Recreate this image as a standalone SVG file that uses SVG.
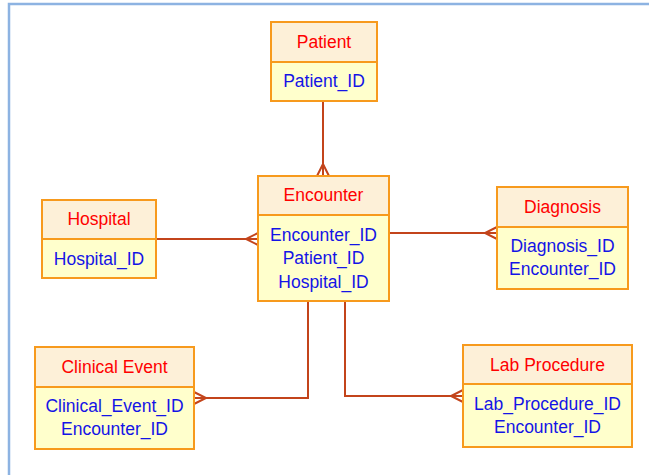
<svg xmlns="http://www.w3.org/2000/svg" width="649" height="475" viewBox="0 0 649 475">
<style>
.hd{fill:#FDF0D8;stroke:#F79A1D;stroke-width:2}
.bd{fill:#FFFFCC;stroke:#F79A1D;stroke-width:2}
.ht{fill:#FF0000;font-family:"Liberation Sans",Arial,sans-serif;font-size:17.5px;text-anchor:middle}
.bt{fill:#1414E6;font-family:"Liberation Sans",Arial,sans-serif;font-size:17.5px;text-anchor:middle}
.cn{fill:none;stroke:#C3441B;stroke-width:2}
</style>
<rect x="9" y="4" width="700" height="520" fill="#FFFFFF" stroke="#8DB3E2" stroke-width="2.5"/>
<g id="connectors">
<path class="cn" d="M323,101 V176 M317,176 L323,164 L329,176 M323,164 V176"/>
<path class="cn" d="M156,239 H258 M258,233 L246,239 L258,245"/>
<path class="cn" d="M389,233 H497 M497,227 L485,233 L497,239"/>
<path class="cn" d="M308,301 V398 H194 M194,392 L206,398 L194,404"/>
<path class="cn" d="M345,301 V396 H463 M463,390 L451,396 L463,402"/>
</g>
<g id="patient">
<rect class="bd" x="271" y="62" width="106" height="39"/>
<rect class="hd" x="271" y="22" width="106" height="40"/>
<text class="ht" x="324" y="48">Patient</text>
<text class="bt" x="324" y="87">Patient_ID</text>
</g>
<g id="encounter">
<rect class="bd" x="258" y="215" width="131" height="86"/>
<rect class="hd" x="258" y="176" width="131" height="39"/>
<text class="ht" x="323.5" y="201">Encounter</text>
<text class="bt" x="323.5" y="241">Encounter_ID</text>
<text class="bt" x="323.5" y="264">Patient_ID</text>
<text class="bt" x="323.5" y="288">Hospital_ID</text>
</g>
<g id="hospital">
<rect class="bd" x="42" y="239" width="114" height="39"/>
<rect class="hd" x="42" y="200" width="114" height="39"/>
<text class="ht" x="99" y="225">Hospital</text>
<text class="bt" x="99" y="265">Hospital_ID</text>
</g>
<g id="diagnosis">
<rect class="bd" x="497" y="227" width="131" height="62"/>
<rect class="hd" x="497" y="187" width="131" height="40"/>
<text class="ht" x="562.5" y="213">Diagnosis</text>
<text class="bt" x="562.5" y="252">Diagnosis_ID</text>
<text class="bt" x="562.5" y="275">Encounter_ID</text>
</g>
<g id="clinical_event">
<rect class="bd" x="35" y="387" width="159" height="62"/>
<rect class="hd" x="35" y="347" width="159" height="40"/>
<text class="ht" x="114.5" y="373">Clinical Event</text>
<text class="bt" x="114.5" y="412">Clinical_Event_ID</text>
<text class="bt" x="114.5" y="435">Encounter_ID</text>
</g>
<g id="lab_procedure">
<rect class="bd" x="463" y="384" width="169" height="63"/>
<rect class="hd" x="463" y="345" width="169" height="39"/>
<text class="ht" x="547.5" y="371">Lab Procedure</text>
<text class="bt" x="547.5" y="410">Lab_Procedure_ID</text>
<text class="bt" x="547.5" y="433">Encounter_ID</text>
</g>
</svg>
